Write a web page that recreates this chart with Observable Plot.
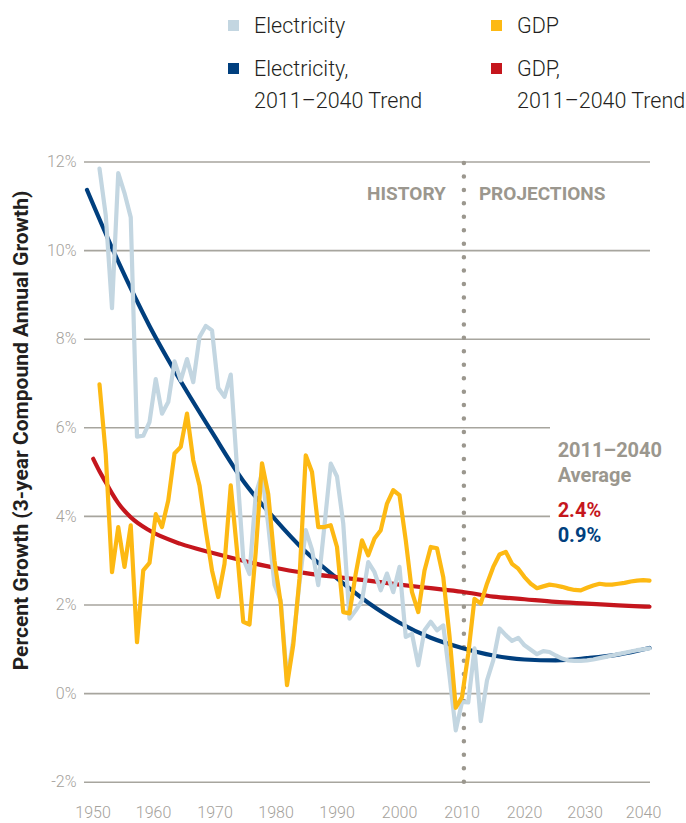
<!DOCTYPE html>
<html>
<head>
<meta charset="utf-8">
<script src="https://cdn.jsdelivr.net/npm/d3@7"></script>
<script src="https://cdn.jsdelivr.net/npm/@observablehq/plot@0.6"></script>
<style>
  html, body { margin: 0; padding: 0; background: #fff; }
  #wrap { width: 686px; }
  #legend { position: relative; width: 686px; height: 120px; font-family: Roboto, "Liberation Sans", sans-serif; font-weight: 300; font-size: 21.5px; color: #231f20; }
  #legend .sw { position: absolute; width: 11px; height: 11px; }
  #legend .tx { position: absolute; line-height: 1; white-space: nowrap; }
</style>
</head>
<body>
<div id="wrap">
  <div id="legend"></div>
  <div id="chart"></div>
</div>
<script>
// ---- data (3-year compound annual growth, %) ----
const startYear = 1952;
const endYear = 2040;
const years = d3.range(startYear, endYear + 1);

const electricity = [
  11.85, 10.8, 8.7, 11.75, 11.3, 10.75, 5.8, 5.82, 6.13, 7.1,     // 1952-1961
  6.32, 6.58, 7.5, 7.07, 7.55, 7.03, 8.05, 8.3, 8.2, 6.9,         // 1962-1971
  6.7, 7.2, 5.1, 3.05, 2.7, 4.5, 4.97, 3.8, 2.45, 2.1,            // 1972-1981
  0.3, 1.2, 2.5, 3.69, 3.25, 2.45, 3.8, 5.19, 4.9, 3.84,          // 1982-1991
  1.69, 1.88, 2.1, 2.97, 2.74, 2.33, 2.71, 2.29, 2.86, 1.28,      // 1992-2001
  1.35, 0.64, 1.43, 1.62, 1.43, 1.54, 0.4, -0.83, -0.19, -0.2,    // 2002-2011
  1.02, -0.62, 0.3, 0.75, 1.47, 1.32, 1.19, 1.26, 1.09, 0.99,     // 2012-2021
  0.89, 0.96, 0.94, 0.86, 0.79, 0.75, 0.74, 0.74, 0.75, 0.77,     // 2022-2031
  0.8, 0.83, 0.86, 0.89, 0.92, 0.95, 0.98, 1.0, 1.02              // 2032-2040
];

const gdp = [
  6.98, 5.4, 2.74, 3.76, 2.86, 3.8, 1.16, 2.78, 2.95, 4.05,       // 1952-1961
  3.76, 4.36, 5.42, 5.57, 6.32, 5.27, 4.7, 3.69, 2.78, 2.18,      // 1962-1971
  2.93, 4.7, 3.23, 1.62, 1.56, 3.2, 5.2, 4.5, 3.0, 2.03,          // 1972-1981
  0.19, 1.1, 2.6, 5.38, 5.0, 3.76, 3.76, 3.8, 3.31, 1.84,         // 1982-1991
  1.81, 2.71, 3.46, 3.12, 3.5, 3.69, 4.29, 4.59, 4.48, 3.46,      // 1992-2001
  2.29, 1.84, 2.78, 3.31, 3.28, 2.63, 1.3, -0.32, -0.08, 0.9,     // 2002-2011
  2.14, 2.03, 2.48, 2.86, 3.14, 3.2, 2.93, 2.82, 2.63, 2.48,      // 2012-2021
  2.38, 2.42, 2.46, 2.44, 2.41, 2.37, 2.34, 2.33, 2.39, 2.44,     // 2022-2031
  2.48, 2.46, 2.46, 2.48, 2.5, 2.53, 2.55, 2.56, 2.55             // 2032-2040
];

const elecTrendYears = [1950, 1955, 1960, 1965, 1970, 1975, 1980, 1985, 1990, 1995, 2000, 2005, 2010, 2015, 2020, 2025, 2030, 2035, 2040];
const elecTrend      = [11.37, 9.75, 8.3, 7.05, 5.9, 4.8, 3.95, 3.2, 2.6, 2.05, 1.6, 1.26, 1.03, 0.86, 0.77, 0.75, 0.8, 0.88, 1.03];

const gdpTrendYears = [1951, 1952, 1953, 1954, 1955, 1957, 1960, 1965, 1970, 1975, 1980, 1985, 1990, 1995, 2000, 2005, 2010, 2015, 2020, 2025, 2030, 2035, 2040];
const gdpTrend      = [5.3, 5.02, 4.77, 4.52, 4.3, 3.98, 3.68, 3.38, 3.18, 3.0, 2.84, 2.72, 2.63, 2.55, 2.46, 2.38, 2.3, 2.19, 2.13, 2.07, 2.03, 1.99, 1.96];

const yTicks = [-2, 0, 2, 4, 6, 8, 10, 12];
const xTicks = [1950, 1960, 1970, 1980, 1990, 2000, 2010, 2020, 2030, 2040];
const xTickNudge = [6, 4, 3, 1.5, 0, 0, 0, 0, -2, -6];
const divideYear = 2010.3;

const legendItems = [
  {label: ["Electricity"], color: "#c3d6e1", col: 0, row: 0},
  {label: ["GDP"], color: "#fdb913", col: 1, row: 0},
  {label: ["Electricity,", "2011\u20132040 Trend"], color: "#003f7e", col: 0, row: 1},
  {label: ["GDP,", "2011\u20132040 Trend"], color: "#c5161d", col: 1, row: 1}
];

const averages = [
  {text: "2.4%", color: "#c5161d"},
  {text: "0.9%", color: "#003f7e"}
];

// ---- legend ----
const legend = document.getElementById("legend");
const colX = [228, 491];
const rowTop = [20, 63];
legendItems.forEach(it => {
  const sw = document.createElement("div");
  sw.className = "sw";
  sw.style.left = colX[it.col] + "px";
  sw.style.top = rowTop[it.row] + "px";
  sw.style.background = it.color;
  legend.appendChild(sw);
  it.label.forEach((line, k) => {
    const t = document.createElement("div");
    t.className = "tx";
    t.textContent = line;
    t.style.left = (colX[it.col] + 26) + "px";
    t.style.top = (rowTop[it.row] - 5 + k * 31.7) + "px";
    legend.appendChild(t);
  });
});

// ---- chart ----
const elecRows = years.map((year, i) => ({year, value: electricity[i]}));
const gdpRows = years.map((year, i) => ({year, value: gdp[i]}));
const elecTrendRows = elecTrendYears.map((year, i) => ({year, value: elecTrend[i]}));
const gdpTrendRows = gdpTrendYears.map((year, i) => ({year, value: gdpTrend[i]}));

const xDomain = [1949.6, 2040.16];
const maskEnd = 2024.16;
const grey = "#9b978e";
const tickGrey = "#a4a19b";

const xAxisMarks = xTicks.map((t, i) => Plot.axisX([t], {
  tickSize: 0, tickPadding: 24, tickFormat: d => String(d), dx: xTickNudge[i],
  fontSize: 16, fontWeight: 300, fill: tickGrey, label: null
}));

const chart = Plot.plot({
  width: 686,
  height: 703,
  marginLeft: 84,
  marginRight: 36,
  marginTop: 41.5,
  marginBottom: 41.3,
  x: {domain: xDomain},
  y: {domain: [-2, 12]},
  style: {fontFamily: "Roboto, 'Liberation Sans', sans-serif", background: "#fff", overflow: "visible"},
  marks: [
    Plot.ruleY(yTicks, {
      y: d => d,
      x1: () => xDomain[0],
      x2: d => (d === 4 || d === 6) ? maskEnd : xDomain[1],
      stroke: "#a7a59e", strokeWidth: 1.6
    }),
    Plot.axisY(yTicks, {
      tickSize: 0, tickPadding: 8, tickFormat: d => `${d}%`,
      fontSize: 16, fontWeight: 300, fill: tickGrey, label: null
    }),
    ...xAxisMarks,
    Plot.ruleX([divideYear], {
      y1: -2, y2: 12, stroke: grey, strokeWidth: 4.5,
      strokeDasharray: "0 13.45", strokeLinecap: "round"
    }),
    Plot.text(["HISTORY"], {x: divideYear, y: 11.27, dx: -18, textAnchor: "end", fontWeight: "bold", fontSize: 19, fill: grey}),
    Plot.text(["PROJECTIONS"], {x: divideYear, y: 11.27, dx: 15, textAnchor: "start", fontWeight: "bold", fontSize: 19, fill: grey}),
    Plot.text(["2011\u20132040"], {x: 2025.3, y: 5.35, lineAnchor: "bottom", textAnchor: "start", fontWeight: "bold", fontSize: 20, fill: grey}),
    Plot.text(["Average"], {x: 2025.3, y: 4.77, lineAnchor: "bottom", textAnchor: "start", fontWeight: "bold", fontSize: 20, fill: grey}),
    Plot.text([averages[0].text], {x: 2025.3, y: 3.98, lineAnchor: "bottom", textAnchor: "start", fontWeight: "bold", fontSize: 20, fill: averages[0].color}),
    Plot.text([averages[1].text], {x: 2025.3, y: 3.43, lineAnchor: "bottom", textAnchor: "start", fontWeight: "bold", fontSize: 20, fill: averages[1].color}),
    Plot.line(elecTrendRows, {x: "year", y: "value", stroke: "#003f7e", strokeWidth: 4.2, curve: "monotone-x"}),
    Plot.line(gdpTrendRows, {x: "year", y: "value", stroke: "#c5161d", strokeWidth: 4.2, curve: "monotone-x"}),
    Plot.line(elecRows, {x: "year", y: "value", stroke: "#c3d6e1", strokeWidth: 4.2, strokeLinejoin: "round"}),
    Plot.line(gdpRows, {x: "year", y: "value", stroke: "#fdb913", strokeWidth: 4.2, strokeLinejoin: "round"}),
    Plot.text(["Percent Growth (3-year Compound Annual Growth)"], {
      frameAnchor: "left", textAnchor: "middle", dx: -63, dy: -41.6, rotate: -90,
      fontWeight: "bold", fontSize: 21, fill: "#231f20", letterSpacing: 1.6
    })
  ]
});
document.getElementById("chart").appendChild(chart);
</script>
</body>
</html>
